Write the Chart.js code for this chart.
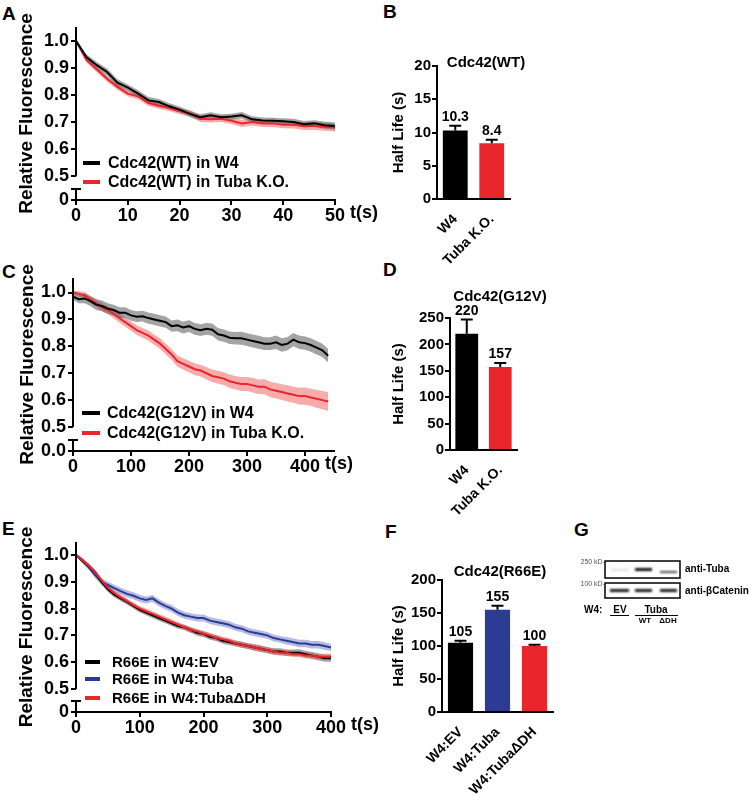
<!DOCTYPE html>
<html>
<head>
<meta charset="utf-8">
<script src="https://cdn.jsdelivr.net/npm/chart.js@4.4.1/dist/chart.umd.min.js"></script>
<style>
  body { margin: 0; background: #fff; width: 750px; height: 798px; position: relative; overflow: hidden;
         font-family: "Liberation Sans", Arial, sans-serif; }
  .box { position: absolute; }
  .lbl { position: absolute; font-weight: bold; font-size: 19px; line-height: 19px; }
</style>
</head>
<body>
<div class="lbl" style="left:2px;top:4px">A</div>
<div class="lbl" style="left:383px;top:2px">B</div>
<div class="lbl" style="left:2px;top:262px">C</div>
<div class="lbl" style="left:383px;top:260px">D</div>
<div class="lbl" style="left:2px;top:519px">E</div>
<div class="lbl" style="left:385px;top:522px">F</div>
<div class="lbl" style="left:574px;top:520px">G</div>
<canvas id="blot" width="190" height="80" style="position:absolute;left:560px;top:550px"></canvas>

<script>
// ---- data ----
// A: Cdc42(WT)
const timeA = [0, 2, 4, 6, 8, 10, 12, 14, 16, 18, 20, 22, 24, 26, 28, 30, 32, 34, 36, 38, 40, 42, 44, 46, 48, 50];
const wtW4 = [1.000, 0.940, 0.910, 0.885, 0.845, 0.827, 0.805, 0.780, 0.774, 0.758, 0.746, 0.730, 0.718,
              0.725, 0.718, 0.720, 0.725, 0.710, 0.706, 0.705, 0.703, 0.700, 0.692, 0.695, 0.688, 0.685];
const wtW4Sem = [0.004, 0.010, 0.012, 0.013, 0.013, 0.012, 0.012, 0.012, 0.011, 0.011, 0.011, 0.011, 0.011,
                 0.011, 0.011, 0.011, 0.012, 0.011, 0.011, 0.011, 0.011, 0.012, 0.012, 0.012, 0.013, 0.013];
const wtKO = [1.000, 0.930, 0.895, 0.860, 0.830, 0.805, 0.795, 0.770, 0.760, 0.752, 0.740, 0.732, 0.712,
              0.710, 0.712, 0.705, 0.695, 0.700, 0.695, 0.695, 0.690, 0.690, 0.685, 0.685, 0.683, 0.680];
const wtKOSem = [0.004, 0.010, 0.011, 0.011, 0.011, 0.011, 0.011, 0.011, 0.011, 0.011, 0.011, 0.012, 0.012,
                 0.012, 0.012, 0.012, 0.013, 0.013, 0.013, 0.013, 0.013, 0.014, 0.014, 0.014, 0.015, 0.015];

// C: Cdc42(G12V)
const timeC = [0, 10, 20, 30, 40, 50, 60, 70, 80, 90, 100, 110, 120, 130, 140, 150, 160, 170, 180, 190, 200,
               210, 220, 230, 240, 250, 260, 270, 280, 290, 300, 310, 320, 330, 340, 350, 360, 370, 380, 390,
               400, 410, 420, 430, 440];
const g12W4 = [0.985, 0.975, 0.978, 0.968, 0.955, 0.950, 0.940, 0.935, 0.925, 0.925, 0.915, 0.910, 0.912,
               0.905, 0.900, 0.895, 0.890, 0.875, 0.878, 0.870, 0.875, 0.865, 0.860, 0.865, 0.862, 0.845,
               0.840, 0.832, 0.830, 0.830, 0.825, 0.820, 0.815, 0.810, 0.810, 0.815, 0.805, 0.810, 0.825,
               0.815, 0.812, 0.805, 0.795, 0.785, 0.765];
const g12W4Sem = [0.012, 0.015, 0.018, 0.018, 0.020, 0.020, 0.020, 0.020, 0.020, 0.020, 0.020, 0.020, 0.020,
                  0.021, 0.021, 0.021, 0.021, 0.021, 0.022, 0.022, 0.022, 0.022, 0.022, 0.022, 0.023, 0.023,
                  0.023, 0.023, 0.023, 0.024, 0.024, 0.024, 0.024, 0.024, 0.024, 0.025, 0.025, 0.025, 0.025,
                  0.025, 0.025, 0.025, 0.025, 0.025, 0.025];
const g12KO = [1.000, 0.995, 0.990, 0.975, 0.960, 0.945, 0.935, 0.920, 0.905, 0.890, 0.875, 0.860, 0.850,
               0.840, 0.825, 0.810, 0.790, 0.770, 0.745, 0.735, 0.725, 0.715, 0.710, 0.700, 0.690, 0.685,
               0.680, 0.670, 0.665, 0.660, 0.660, 0.655, 0.650, 0.650, 0.640, 0.635, 0.630, 0.625, 0.620,
               0.615, 0.615, 0.610, 0.605, 0.600, 0.595];
const g12KOSem = [0.008, 0.010, 0.012, 0.013, 0.014, 0.015, 0.015, 0.016, 0.016, 0.017, 0.017, 0.018, 0.018,
                  0.019, 0.019, 0.020, 0.020, 0.020, 0.021, 0.021, 0.021, 0.022, 0.022, 0.023, 0.023, 0.024,
                  0.024, 0.025, 0.025, 0.026, 0.026, 0.027, 0.027, 0.028, 0.028, 0.029, 0.029, 0.030, 0.030,
                  0.031, 0.032, 0.032, 0.033, 0.034, 0.035];

// E: Cdc42(R66E)
const timeE = [0, 10, 20, 30, 40, 50, 60, 70, 80, 90, 100, 110, 120, 130, 140, 150, 160, 170, 180, 190, 200,
               210, 220, 230, 240, 250, 260, 270, 280, 290, 300, 310, 320, 330, 340, 350, 360, 370, 380, 390, 400];
const r66EV = [1.000, 0.978, 0.958, 0.935, 0.900, 0.872, 0.852, 0.838, 0.825, 0.810, 0.795, 0.785, 0.775,
               0.765, 0.755, 0.745, 0.735, 0.730, 0.720, 0.710, 0.705, 0.695, 0.690, 0.680, 0.675, 0.670,
               0.665, 0.660, 0.655, 0.650, 0.645, 0.640, 0.640, 0.635, 0.635, 0.635, 0.630, 0.625, 0.620,
               0.615, 0.615];
const r66EVSem = [0.004, 0.008, 0.009, 0.010, 0.010, 0.010, 0.010, 0.010, 0.010, 0.010, 0.010, 0.010, 0.010,
                  0.010, 0.010, 0.010, 0.010, 0.010, 0.010, 0.011, 0.011, 0.011, 0.011, 0.011, 0.011, 0.011,
                  0.011, 0.011, 0.012, 0.012, 0.012, 0.012, 0.012, 0.012, 0.012, 0.013, 0.013, 0.013, 0.013,
                  0.013, 0.013];
const r66Tuba = [1.000, 0.980, 0.955, 0.925, 0.900, 0.888, 0.876, 0.865, 0.855, 0.848, 0.838, 0.832, 0.838,
                 0.822, 0.810, 0.800, 0.785, 0.775, 0.770, 0.765, 0.765, 0.755, 0.750, 0.745, 0.740, 0.730,
                 0.725, 0.715, 0.710, 0.705, 0.700, 0.690, 0.685, 0.680, 0.675, 0.670, 0.670, 0.665, 0.665,
                 0.660, 0.655];
const r66TubaSem = [0.004, 0.010, 0.011, 0.012, 0.012, 0.013, 0.013, 0.013, 0.013, 0.013, 0.013, 0.013, 0.013,
                    0.013, 0.013, 0.013, 0.013, 0.013, 0.013, 0.013, 0.013, 0.013, 0.013, 0.013, 0.013, 0.013,
                    0.013, 0.013, 0.013, 0.013, 0.013, 0.013, 0.013, 0.014, 0.014, 0.014, 0.014, 0.014, 0.014,
                    0.014, 0.014];
const r66DH = [1.000, 0.980, 0.960, 0.935, 0.905, 0.878, 0.858, 0.842, 0.828, 0.813, 0.800, 0.790, 0.780,
               0.770, 0.760, 0.750, 0.740, 0.730, 0.720, 0.715, 0.705, 0.700, 0.690, 0.685, 0.680, 0.670,
               0.665, 0.660, 0.655, 0.650, 0.645, 0.640, 0.635, 0.635, 0.630, 0.630, 0.625, 0.625, 0.620,
               0.620, 0.620];
const r66DHSem = [0.004, 0.008, 0.009, 0.009, 0.010, 0.010, 0.010, 0.010, 0.010, 0.010, 0.010, 0.010, 0.010,
                  0.010, 0.010, 0.010, 0.010, 0.010, 0.010, 0.010, 0.010, 0.010, 0.010, 0.010, 0.010, 0.011,
                  0.011, 0.011, 0.011, 0.011, 0.011, 0.011, 0.011, 0.011, 0.011, 0.011, 0.011, 0.011, 0.011,
                  0.011, 0.011];

// B, D, F: half lives
const catsWT = ['W4', 'Tuba K.O.'];
const halfWT = [10.3, 8.4];
const halfWTErr = [0.7, 0.5];
const catsG12 = ['W4', 'Tuba K.O.'];
const halfG12 = [220, 157];
const halfG12Err = [27, 8];
const catsR66 = ['W4:EV', 'W4:Tuba', 'W4:TubaΔDH'];
const halfR66 = [105, 155, 100];
const halfR66Err = [3, 6, 2];

const yTicksRel = [0.5, 0.6, 0.7, 0.8, 0.9, 1.0];

// ---- styling ----
const FONT = '"Liberation Sans", Arial, sans-serif';
const BLACK = '#000000', RED = '#e9262b', BLUE = '#2c3c94';
const BAND_BLACK = 'rgba(90,90,90,0.55)', BAND_RED = 'rgba(238,90,90,0.5)', BAND_BLUE = 'rgba(110,120,200,0.5)';

Chart.defaults.font.family = FONT;
Chart.defaults.font.weight = 'bold';
Chart.defaults.color = '#000';
Chart.defaults.animation = false;

function makeBox(b) {
  const d = document.createElement('div');
  d.className = 'box';
  d.style.cssText = `left:${b.left}px;top:${b.top}px;width:${b.w}px;height:${b.h}px`;
  const cv = document.createElement('canvas');
  d.appendChild(cv);
  document.body.appendChild(d);
  return cv;
}

// y axis with a break between 0 and 0.5
const brokenAxis = {
  id: 'brokenAxis',
  afterDraw(chart, args, o) {
    const {ctx, chartArea: a} = chart;
    const yb = chart.scales.y.getPixelForValue(o.resume);
    ctx.save();
    ctx.strokeStyle = '#000';
    ctx.lineWidth = 2;
    ctx.beginPath();
    ctx.moveTo(a.left, a.top); ctx.lineTo(a.left, yb);
    ctx.moveTo(a.left, a.bottom - o.stub); ctx.lineTo(a.left, a.bottom);
    ctx.moveTo(a.left - 5, a.bottom - o.stub); ctx.lineTo(a.left + 5, a.bottom - o.stub);
    ctx.stroke();
    // unit after the last x tick label
    const xs = chart.scales.x;
    const last = xs.ticks[xs.ticks.length - 1];
    ctx.font = `bold ${o.tickSize}px ${FONT}`;
    ctx.fillStyle = '#000';
    ctx.textBaseline = 'top';
    const w = ctx.measureText(String(last.value)).width;
    ctx.fillText('t(s)', xs.getPixelForValue(last.value) + w / 2 + 5, xs.top + o.unitDy);
    ctx.restore();
  }
};

const inlineLegend = {
  id: 'inlineLegend',
  afterDraw(chart, args, o) {
    const {ctx, chartArea: a} = chart;
    ctx.save();
    ctx.font = `bold ${o.size}px ${FONT}`;
    ctx.textBaseline = 'middle';
    o.items.forEach((it, i) => {
      const y = a.bottom + o.rows[i];
      ctx.strokeStyle = it.color;
      ctx.lineWidth = 4;
      ctx.beginPath();
      ctx.moveTo(a.left + o.x0, y); ctx.lineTo(a.left + o.x1, y);
      ctx.stroke();
      ctx.fillStyle = '#000';
      ctx.fillText(it.label, a.left + o.tx, y + 1);
    });
    ctx.restore();
  }
};

function linePanel(p) {
  const cv = makeBox(p.box);
  const datasets = [];
  // lines first so they sit on top of the bands
  p.drawOrder.forEach(k => {
    const s = p.series[k];
    datasets.push({data: p.time.map((t, i) => ({x: t, y: s.mean[i]})), borderColor: s.color,
                   borderWidth: 2, pointRadius: 0, fill: false});
  });
  p.drawOrder.forEach(k => {
    const s = p.series[k];
    datasets.push({data: p.time.map((t, i) => ({x: t, y: s.mean[i] - s.sem[i]})), borderWidth: 0,
                   pointRadius: 0, fill: false});
    datasets.push({data: p.time.map((t, i) => ({x: t, y: s.mean[i] + s.sem[i]})), borderWidth: 0,
                   pointRadius: 0, fill: '-1', backgroundColor: s.band});
  });
  const a = p.area;
  const lo = p.box.left, to = p.box.top;
  new Chart(cv, {
    type: 'line',
    data: {datasets},
    options: {
      responsive: true, maintainAspectRatio: false,
      layout: {padding: {left: 0, top: a.top - to, right: lo + p.box.w - a.right, bottom: 0}},
      plugins: {
        legend: {display: false}, tooltip: {enabled: false},
        brokenAxis: {resume: 0.5, stub: 11, tickSize: p.tickSize, unitDy: 4},
        inlineLegend: Object.assign({items: p.series.map(s => ({label: s.label, color: s.color}))}, p.legend)
      },
      scales: {
        x: {
          type: 'linear', min: 0, max: p.xMax,
          afterBuildTicks: s => { s.ticks = p.xTicks.map(v => ({value: v})); },
          ticks: {font: {size: p.tickSize, weight: 'bold'}, color: '#000', padding: 0, maxRotation: 0, autoSkip: false},
          grid: {drawOnChartArea: false, tickLength: 5, color: '#000', lineWidth: 2},
          border: {display: true, color: '#000', width: 2},
          afterFit: s => { s.height = to + p.box.h - a.bottom; s.paddingLeft = 0; s.paddingRight = 0; }
        },
        y: {
          type: 'linear', min: p.yMin, max: p.yMax,
          afterBuildTicks: s => { s.ticks = [p.yMin].concat(yTicksRel).map(v => ({value: v})); },
          ticks: {font: {size: p.tickSize, weight: 'bold'}, color: '#000', padding: 2, autoSkip: false,
                  callback: v => (Math.abs(v - p.yMin) < 1e-6 ? p.zeroLabel : v.toFixed(1))},
          grid: {drawOnChartArea: false, tickLength: 5, color: '#000', lineWidth: 2},
          border: {display: false},
          title: {display: true, text: 'Relative Fluorescence', color: '#000',
                  font: {size: 19, weight: 'bold'}, padding: {top: p.titlePad, bottom: 0}},
          afterFit: s => { s.width = a.left - lo; s.paddingTop = 0; s.paddingBottom = 0; }
        }
      }
    },
    plugins: [brokenAxis, inlineLegend]
  });
}

// bars: error whisker, value label, panel title
const barExtras = {
  id: 'barExtras',
  afterDatasetsDraw(chart, args, o) {
    const {ctx} = chart;
    const y = chart.scales.y;
    const meta = chart.getDatasetMeta(0);
    ctx.save();
    meta.data.forEach((bar, i) => {
      const top = y.getPixelForValue(o.values[i] + o.errors[i]);
      ctx.strokeStyle = '#000';
      ctx.lineWidth = 2;
      ctx.beginPath();
      ctx.moveTo(bar.x, bar.y); ctx.lineTo(bar.x, top);
      ctx.moveTo(bar.x - 6, top); ctx.lineTo(bar.x + 6, top);
      ctx.stroke();
      ctx.fillStyle = '#000';
      ctx.font = `bold 14px ${FONT}`;
      ctx.textAlign = 'center';
      ctx.textBaseline = 'alphabetic';
      ctx.fillText(String(o.values[i]), bar.x, top - 5);
    });
    ctx.font = `bold 15px ${FONT}`;
    ctx.textAlign = 'center';
    ctx.textBaseline = 'middle';
    ctx.fillText(o.title, o.tx, o.ty);
    ctx.restore();
  }
};

function barPanel(p) {
  const cv = makeBox(p.box);
  const a = p.area;
  const lo = p.box.left, to = p.box.top;
  new Chart(cv, {
    type: 'bar',
    data: {labels: p.cats, datasets: [{data: p.values, backgroundColor: p.colors, borderWidth: 0,
                                        barPercentage: 0.68, categoryPercentage: 1}]},
    options: {
      responsive: true, maintainAspectRatio: false,
      layout: {padding: {left: 0, top: a.top - to, right: lo + p.box.w - a.right, bottom: 0}},
      plugins: {
        legend: {display: false}, tooltip: {enabled: false},
        barExtras: {values: p.values, errors: p.errors, title: p.title, tx: p.titleAt[0] - lo, ty: p.titleAt[1] - to}
      },
      scales: {
        x: {
          ticks: {font: {size: 14, weight: 'bold'}, color: '#000', minRotation: 45, maxRotation: 45,
                  padding: 4, autoSkip: false},
          grid: {display: false},
          border: {display: true, color: '#000', width: 2},
          afterFit: s => { s.height = to + p.box.h - a.bottom; s.paddingLeft = 0; s.paddingRight = 0; }
        },
        y: {
          min: 0, max: p.yMax,
          ticks: {stepSize: p.yStep, font: {size: 15, weight: 'bold'}, color: '#000', padding: 1},
          grid: {drawOnChartArea: false, tickLength: 5, color: '#000', lineWidth: 2},
          border: {display: true, color: '#000', width: 2},
          title: {display: true, text: 'Half Life (s)', color: '#000', font: {size: 15, weight: 'bold'},
                  padding: {top: 20, bottom: 0}},
          afterFit: s => { s.width = a.left - lo; s.paddingTop = 0; s.paddingBottom = 0; }
        }
      }
    },
    plugins: [barExtras]
  });
}

linePanel({
  box: {left: 0, top: 0, w: 380, h: 228}, area: {left: 76, top: 27, right: 335, bottom: 200},
  time: timeA, xMax: 50, xTicks: [0, 10, 20, 30, 40, 50], yMin: 0.412, yMax: 1.051, zeroLabel: '0',
  tickSize: 18, titlePad: 15,
  series: [
    {label: 'Cdc42(WT) in W4', mean: wtW4, sem: wtW4Sem, color: BLACK, band: BAND_BLACK},
    {label: 'Cdc42(WT) in Tuba K.O.', mean: wtKO, sem: wtKOSem, color: RED, band: BAND_RED}
  ],
  drawOrder: [0, 1],
  legend: {size: 16, rows: [-37, -18], x0: 7, x1: 24, tx: 32}
});

linePanel({
  box: {left: 0, top: 250, w: 380, h: 228}, area: {left: 73, top: 278, right: 334, bottom: 451},
  time: timeC, xMax: 450, xTicks: [0, 100, 200, 300, 400], yMin: 0.411, yMax: 1.054, zeroLabel: '0.0',
  tickSize: 18, titlePad: 16,
  series: [
    {label: 'Cdc42(G12V) in W4', mean: g12W4, sem: g12W4Sem, color: BLACK, band: BAND_BLACK},
    {label: 'Cdc42(G12V) in Tuba K.O.', mean: g12KO, sem: g12KOSem, color: RED, band: BAND_RED}
  ],
  drawOrder: [0, 1],
  legend: {size: 16, rows: [-38, -18], x0: 9, x1: 27, tx: 34}
});

linePanel({
  box: {left: 0, top: 510, w: 380, h: 228}, area: {left: 76, top: 542, right: 331, bottom: 712},
  time: timeE, xMax: 400, xTicks: [0, 100, 200, 300, 400], yMin: 0.414, yMax: 1.0485, zeroLabel: '0',
  tickSize: 18, titlePad: 15,
  series: [
    {label: 'R66E in W4:EV', mean: r66EV, sem: r66EVSem, color: BLACK, band: BAND_BLACK},
    {label: 'R66E in W4:Tuba', mean: r66Tuba, sem: r66TubaSem, color: BLUE, band: BAND_BLUE},
    {label: 'R66E in W4:TubaΔDH', mean: r66DH, sem: r66DHSem, color: RED, band: BAND_RED}
  ],
  drawOrder: [2, 0, 1],
  legend: {size: 15, rows: [-50, -33, -14], x0: 9, x1: 24, tx: 36}
});

barPanel({
  box: {left: 370, top: 40, w: 190, h: 240}, area: {left: 437, top: 66, right: 510, bottom: 199},
  cats: catsWT, values: halfWT, errors: halfWTErr, colors: [BLACK, RED], yMax: 20, yStep: 5,
  title: 'Cdc42(WT)', titleAt: [486, 63]
});
barPanel({
  box: {left: 370, top: 284, w: 190, h: 246}, area: {left: 450, top: 318, right: 517, bottom: 450},
  cats: catsG12, values: halfG12, errors: halfG12Err, colors: [BLACK, RED], yMax: 250, yStep: 50,
  title: 'Cdc42(G12V)', titleAt: [500, 297]
});
barPanel({
  box: {left: 370, top: 556, w: 190, h: 242}, area: {left: 442, top: 580, right: 553, bottom: 712},
  cats: catsR66, values: halfR66, errors: halfR66Err, colors: [BLACK, BLUE, RED], yMax: 200, yStep: 50,
  title: 'Cdc42(R66E)', titleAt: [500, 572]
});

// G: western blot sketch (canvas origin at page 560,550)
(function() {
  const c = document.getElementById('blot').getContext('2d');
  const X = x => x - 560, Y = y => y - 550;
  c.fillStyle = '#555';
  c.font = `7px ${FONT}`;
  c.textAlign = 'right'; c.textBaseline = 'middle';
  c.fillText('250 kD-', X(605), Y(562));
  c.fillText('100 kD-', X(605), Y(584));
  c.strokeStyle = '#000'; c.lineWidth = 1.5;
  c.strokeRect(X(605), Y(561), 75, 17);
  c.strokeRect(X(605), Y(583), 75, 15);
  c.filter = 'blur(0.8px)';
  c.fillStyle = 'rgba(0,0,0,0.12)'; c.fillRect(X(611), Y(569), 18, 2);
  c.fillStyle = 'rgba(0,0,0,0.95)'; c.fillRect(X(635), Y(568), 17, 3);
  c.fillStyle = 'rgba(0,0,0,0.7)'; c.fillRect(X(660), Y(571), 17, 2);
  c.fillStyle = 'rgba(0,0,0,0.9)';
  c.fillRect(X(610), Y(589), 19, 3);
  c.fillRect(X(635), Y(589), 17, 3);
  c.fillRect(X(660), Y(589), 17, 3);
  c.filter = 'none';
  c.fillStyle = '#000';
  c.textAlign = 'left';
  c.font = `bold 10px ${FONT}`;
  c.fillText('anti-Tuba', X(685), Y(569));
  c.fillText('anti-βCatenin', X(685), Y(591));
  c.fillText('W4:', X(584), Y(610));
  c.textAlign = 'center';
  c.fillText('EV', X(620), Y(610));
  c.fillText('Tuba', X(656), Y(610));
  c.font = `bold 8px ${FONT}`;
  c.fillText('WT', X(645), Y(621));
  c.fillText('ΔDH', X(668), Y(621));
  c.lineWidth = 1;
  c.beginPath();
  c.moveTo(X(610), Y(615.5)); c.lineTo(X(629), Y(615.5));
  c.moveTo(X(635), Y(615.5)); c.lineTo(X(678), Y(615.5));
  c.stroke();
})();
</script>
</body>
</html>
